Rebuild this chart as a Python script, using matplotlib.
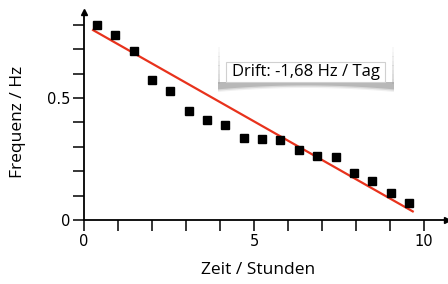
import matplotlib
matplotlib.use("Agg")
import matplotlib.pyplot as plt
import numpy as np
from matplotlib.patches import Rectangle, Polygon

# data
zeit = [0.38, 0.92, 1.46, 2.00, 2.54, 3.08, 3.62, 4.16, 4.70, 5.24, 5.78,
        6.32, 6.86, 7.40, 7.94, 8.48, 9.02, 9.56]
frequenz = [0.80, 0.758, 0.693, 0.574, 0.529, 0.447, 0.41, 0.39, 0.336, 0.332,
            0.328, 0.287, 0.262, 0.258, 0.193, 0.16, 0.11, 0.07]
fit_x = [0.24, 9.70]
fit_y = [0.78, 0.033]
xticks = [0, 5, 10]
yticks = [0, 0.5]
annot = "Drift: -1,68 Hz / Tag"

W, H = 448, 284
fig = plt.figure(figsize=(W / 100, H / 100), dpi=100)
ax = fig.add_axes([84 / W, 1 - 220 / H, 363 / W, 208 / H])
ax.set_xlim(0, 10.68)
ax.set_ylim(0, 0.852)

ax.plot(fit_x, fit_y, color="#e8321c", lw=1.6, zorder=2, solid_capstyle="butt")
ax.plot(zeit, frequenz, "s", color="black", ms=5.6, zorder=3)

for s in ["top", "right"]:
    ax.spines[s].set_visible(False)
for s in ["left", "bottom"]:
    ax.spines[s].set_linewidth(1.3)
ax.plot(1, 0, ">k", ms=5, transform=ax.get_yaxis_transform(), clip_on=False)
ax.plot(0, 1, "^k", ms=5, transform=ax.get_xaxis_transform(), clip_on=False)

ax.set_xticks(xticks)
ax.set_xticks(np.arange(0, 11, 1), minor=True)
ax.set_yticks(yticks)
ax.set_yticks(np.arange(0, 0.81, 0.1), minor=True)
ax.set_xticklabels([str(t) for t in xticks])
ax.set_yticklabels(["0", "0.5"])
ax.tick_params(which="both", length=8, width=1.1, direction="out", color="black")
ax.tick_params(labelsize=10.5, pad=2)
for lab in ax.get_xticklabels() + ax.get_yticklabels():
    lab.set_fontfamily("DejaVu Sans")

ax.set_xlabel("Zeit / Stunden", fontfamily="Open Sans", fontsize=12.5, va="center")
ax.xaxis.set_label_coords((258 - 84) / 363, -(270 - 220) / 208)
ax.set_ylabel("Frequenz / Hz", fontfamily="Open Sans", fontsize=12.5, va="center")
ax.yaxis.set_label_coords(-(84 - 18) / 363, (220 - 122) / 208)


def px(x, y):
    return (x / W, 1 - y / H)


# annotation box with curved shadow
x0, x1 = 218, 394
for xs in (x0, x1 - 2):
    for i in range(8):
        fig.add_artist(Rectangle(px(xs, 52 + i * 4.5), 2 / W, 4.5 / H, transform=fig.transFigure,
                                 facecolor="#c4c4c4", edgecolor="none", alpha=0.1 + 0.08 * i))
xs = np.linspace(x0, x1, 60)
t = (xs - x0) / (x1 - x0)
for k, (a, c) in enumerate([(0.3, "#d0d0d0"), (0.4, "#b4b4b4"), (0.5, "#9a9a9a")]):
    bottom = 88 + 4.0 * (2 * t - 1) ** 2 - k * 1.3
    top = np.full_like(xs, 82.0)
    pts = [px(x, y) for x, y in zip(xs, top)] + [px(x, y) for x, y in zip(xs[::-1], bottom[::-1])]
    fig.add_artist(Polygon(pts, closed=True, transform=fig.transFigure,
                           facecolor=c, edgecolor="none", alpha=a))
fig.add_artist(Rectangle(px(x0 + 2, 82), (x1 - x0 - 4) / W, 32 / H, transform=fig.transFigure,
                         facecolor="white", edgecolor="none"))
fig.add_artist(Rectangle(px(226, 82), (385 - 226) / W, 20 / H, transform=fig.transFigure,
                         facecolor="white", edgecolor="#d0d0d0", lw=0.8))
fig.text(*px(305.5, 72.5), annot, fontfamily="Open Sans", fontsize=12,
         ha="center", va="center")

fig.savefig("out.png", dpi=100)
